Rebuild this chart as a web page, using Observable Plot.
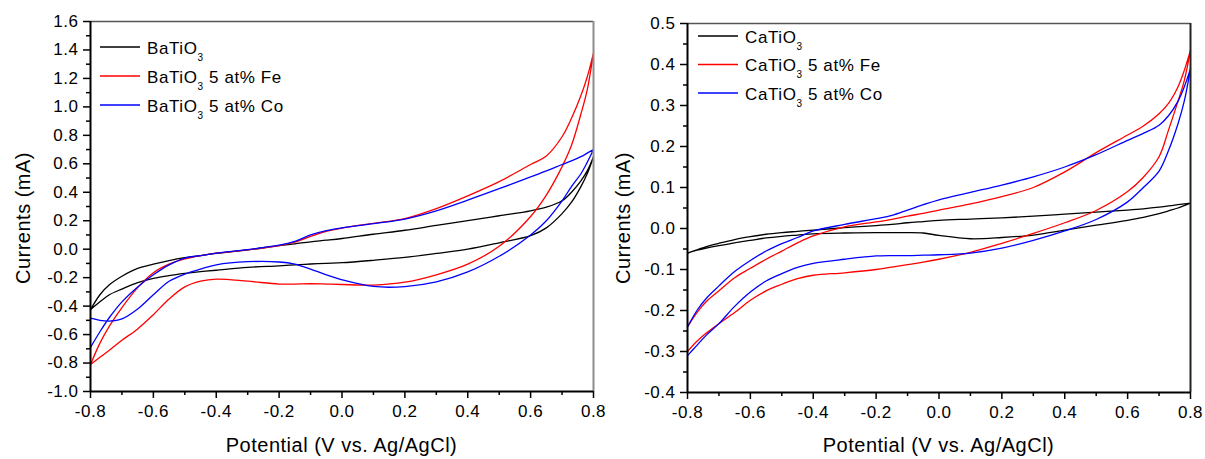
<!DOCTYPE html>
<html><head><meta charset="utf-8">
<script src="https://cdn.jsdelivr.net/npm/d3@7"></script>
<script src="https://cdn.jsdelivr.net/npm/@observablehq/plot@0.6"></script>
<style>
body{margin:0;background:#fff;}
#wrap{position:relative;width:1205px;height:459px;display:flex;background:#fff;}
#wrap svg{flex:none;}
svg text{font-family:Arial,"Liberation Sans",sans-serif;letter-spacing:0.5px;}
</style></head><body><div id="wrap"></div>
<script>
// Potential grid (V vs. Ag/AgCl) shared by every branch
const potentialsV = [-0.8,-0.77,-0.74,-0.7,-0.65,-0.6,-0.55,-0.5,-0.45,-0.4,-0.3,-0.2,-0.15,-0.1,-0.05,0,0.1,0.2,0.3,0.4,0.5,0.6,0.65,0.7,0.73,0.76,0.78,0.8];

// Left panel: BaTiO3 family (mA). "Up" = anodic sweep, "Down" = cathodic sweep (listed in potential order)
const baTiO3Up   = [-0.425,-0.32,-0.25,-0.19,-0.135,-0.105,-0.08,-0.06,-0.045,-0.03,-0.005,0.025,0.038,0.052,0.063,0.075,0.105,0.133,0.167,0.2,0.235,0.27,0.295,0.34,0.40,0.48,0.55,0.65];
const baTiO3Down = [-0.425,-0.37,-0.32,-0.28,-0.235,-0.205,-0.185,-0.17,-0.158,-0.148,-0.128,-0.117,-0.11,-0.104,-0.099,-0.095,-0.078,-0.058,-0.03,0.0,0.045,0.095,0.15,0.25,0.33,0.44,0.53,0.65];
const baFeUp     = [-0.81,-0.66,-0.54,-0.41,-0.27,-0.165,-0.105,-0.068,-0.045,-0.028,-0.005,0.025,0.05,0.09,0.125,0.148,0.182,0.215,0.285,0.375,0.475,0.595,0.655,0.79,0.92,1.08,1.21,1.38];
const baFeDown   = [-0.81,-0.76,-0.71,-0.64,-0.56,-0.46,-0.35,-0.265,-0.225,-0.21,-0.225,-0.245,-0.245,-0.243,-0.245,-0.248,-0.252,-0.232,-0.18,-0.105,0.02,0.23,0.38,0.58,0.73,0.95,1.12,1.38];
const baCoUp     = [-0.69,-0.58,-0.48,-0.37,-0.265,-0.18,-0.11,-0.062,-0.045,-0.028,-0.003,0.028,0.055,0.10,0.13,0.15,0.18,0.212,0.27,0.345,0.425,0.508,0.55,0.595,0.62,0.65,0.675,0.70];
const baCoDown   = [-0.485,-0.50,-0.505,-0.49,-0.42,-0.32,-0.225,-0.175,-0.14,-0.11,-0.088,-0.09,-0.105,-0.14,-0.18,-0.215,-0.262,-0.263,-0.23,-0.16,-0.05,0.1,0.2,0.34,0.44,0.53,0.61,0.70];

// Right panel: CaTiO3 family (mA)
const caTiO3Up   = [-0.06,-0.052,-0.044,-0.036,-0.027,-0.02,-0.014,-0.01,-0.007,-0.004,0.002,0.007,0.01,0.014,0.017,0.02,0.023,0.026,0.03,0.035,0.04,0.045,0.048,0.052,0.055,0.058,0.06,0.062];
const caTiO3Down = [-0.06,-0.053,-0.048,-0.042,-0.035,-0.029,-0.023,-0.019,-0.016,-0.013,-0.011,-0.01,-0.01,-0.01,-0.011,-0.017,-0.025,-0.022,-0.016,-0.004,0.008,0.02,0.027,0.036,0.043,0.05,0.056,0.062];
const caFeUp     = [-0.24,-0.205,-0.178,-0.152,-0.12,-0.097,-0.075,-0.055,-0.035,-0.018,0.004,0.016,0.022,0.03,0.037,0.045,0.06,0.078,0.1,0.138,0.185,0.228,0.25,0.28,0.305,0.345,0.385,0.435];
const caFeDown   = [-0.30,-0.275,-0.255,-0.232,-0.205,-0.175,-0.152,-0.136,-0.122,-0.114,-0.108,-0.1,-0.094,-0.088,-0.082,-0.075,-0.058,-0.036,-0.012,0.014,0.044,0.09,0.125,0.175,0.24,0.31,0.36,0.435];
const caCoUp     = [-0.24,-0.2,-0.17,-0.14,-0.105,-0.078,-0.055,-0.037,-0.022,-0.006,0.01,0.024,0.032,0.045,0.058,0.07,0.088,0.106,0.126,0.15,0.18,0.215,0.232,0.252,0.275,0.31,0.345,0.39];
const caCoDown   = [-0.31,-0.285,-0.26,-0.232,-0.19,-0.155,-0.128,-0.11,-0.095,-0.085,-0.075,-0.067,-0.066,-0.066,-0.065,-0.064,-0.06,-0.048,-0.029,-0.006,0.022,0.065,0.1,0.14,0.19,0.255,0.31,0.39];

// Ticks
const xTicks = [-0.8,-0.6,-0.4,-0.2,0.0,0.2,0.4,0.6,0.8];
const xMinor = [-0.7,-0.5,-0.3,-0.1,0.1,0.3,0.5,0.7];
const leftYTicks = [-1.0,-0.8,-0.6,-0.4,-0.2,0.0,0.2,0.4,0.6,0.8,1.0,1.2,1.4,1.6];
const leftYMinor = [-0.9,-0.7,-0.5,-0.3,-0.1,0.1,0.3,0.5,0.7,0.9,1.1,1.3,1.5];
const rightYTicks = [-0.4,-0.3,-0.2,-0.1,0.0,0.1,0.2,0.3,0.4,0.5];
const rightYMinor = [-0.35,-0.25,-0.15,-0.05,0.05,0.15,0.25,0.35,0.45];

// Series labels and colours
const seriesColors = ["#000000","#ff0000","#0000ff"];
const baNames = ["BaTiO3","BaTiO3 5 at% Fe","BaTiO3 5 at% Co"];
const caNames = ["CaTiO3","CaTiO3 5 at% Fe","CaTiO3 5 at% Co"];
const legendSuffix = [""," 5 at% Fe"," 5 at% Co"];

const xTitle = "Potential (V vs. Ag/AgCl)";
const yTitle = "Currents (mA)";

function panel(o){
  const rows = [];
  o.names.forEach((n,k)=>{
    potentialsV.forEach((v,i)=>rows.push({series:n,V:v,I:o.ups[k][i]}));
    for(let i=potentialsV.length-1;i>=0;i--) rows.push({series:n,V:potentialsV[i],I:o.downs[k][i]});
  });
  const fmt = d => d.toFixed(1);
  const blank = () => "";
  const svg = Plot.plot({
    width:o.width, height:459,
    marginLeft:o.mL, marginRight:o.mR, marginTop:o.mT, marginBottom:o.mB,
    inset:0,
    x:{domain:[-0.8,0.8], label:null},
    y:{domain:o.yDomain, label:null},
    color:{domain:o.names, range:seriesColors},
    style:{fontFamily:'Arial, "Liberation Sans", sans-serif', fontSize:"17px", background:"transparent", color:"#000", overflow:"visible"},
    marks:[
      Plot.line(rows,{x:"V",y:"I",z:"series",stroke:"series",strokeWidth:1.3,curve:"catmull-rom"}),
      Plot.ruleY([o.yDomain[1]],{stroke:"#555",strokeWidth:1.5}),
      Plot.ruleX([0.8],{stroke:o.rightColor,strokeWidth:2}),
      Plot.ruleX([-0.8],{stroke:"#000",strokeWidth:2}),
      Plot.ruleY([o.yDomain[0]],{stroke:"#000",strokeWidth:2}),
      Plot.axisY(o.yTicks,{tickSize:7,tickPadding:5,tickFormat:fmt,label:null,strokeWidth:1.5,fontSize:17}),
      Plot.axisY(o.yMinor,{tickSize:4,tickFormat:blank,label:null,strokeWidth:1.5}),
      Plot.axisX(xTicks,{tickSize:7,tickPadding:6,tickFormat:fmt,label:null,strokeWidth:1.5,fontSize:17}),
      Plot.axisX(xMinor,{tickSize:4,tickFormat:blank,label:null,strokeWidth:1.5})
    ]
  });
  svg.style.position = "relative";
  svg.style.zIndex = o.z;
  const s = d3.select(svg);
  const cx = (o.mL + o.width - o.mR)/2;
  s.append("text").attr("x",cx).attr("y",452).attr("text-anchor","middle")
    .style("font-size","20px").style("letter-spacing","0.5px").attr("fill","#000").text(xTitle);
  s.append("text").attr("transform",`translate(${o.yTitleX},218) rotate(-90)`).attr("text-anchor","middle")
    .style("font-size","20px").style("letter-spacing","0.5px").attr("fill","#000").text(yTitle);
  const lg = s.append("g").attr("text-anchor","start");
  o.names.forEach((n,k)=>{
    const y = o.legendY[k];
    lg.append("line").attr("x1",o.legendX).attr("x2",o.legendX+40).attr("y1",y).attr("y2",y)
      .attr("stroke",seriesColors[k]).attr("stroke-width",1.5);
    const t = lg.append("text").attr("x",o.legendX+47).attr("y",y+6.5).attr("fill","#000")
      .attr("text-anchor","start").style("font-size","17px").style("letter-spacing","0.6px");
    t.append("tspan").text(o.base);
    t.append("tspan").attr("dy",7).style("font-size","10px").text("3");
    if(legendSuffix[k]) t.append("tspan").attr("dy",-7).text(legendSuffix[k]);
  });
  return svg;
}

const wrap = document.getElementById("wrap");
wrap.appendChild(panel({width:602,mL:90,mR:9,mT:21,mB:68,yDomain:[-1.0,1.6],yTicks:leftYTicks,yMinor:leftYMinor,
  names:baNames,ups:[baTiO3Up,baFeUp,baCoUp],downs:[baTiO3Down,baFeDown,baCoDown],
  rightColor:"#8c8c8c",legendX:100,legendY:[47,76,105],base:"BaTiO",yTitleX:30,z:2}));
wrap.appendChild(panel({width:603,mL:85,mR:15,mT:23,mB:67,yDomain:[-0.4,0.5],yTicks:rightYTicks,yMinor:rightYMinor,
  names:caNames,ups:[caTiO3Up,caFeUp,caCoUp],downs:[caTiO3Down,caFeDown,caCoDown],
  rightColor:"#222",legendX:96,legendY:[36,64.5,93],base:"CaTiO",yTitleX:28,z:1}));
</script></body></html>
